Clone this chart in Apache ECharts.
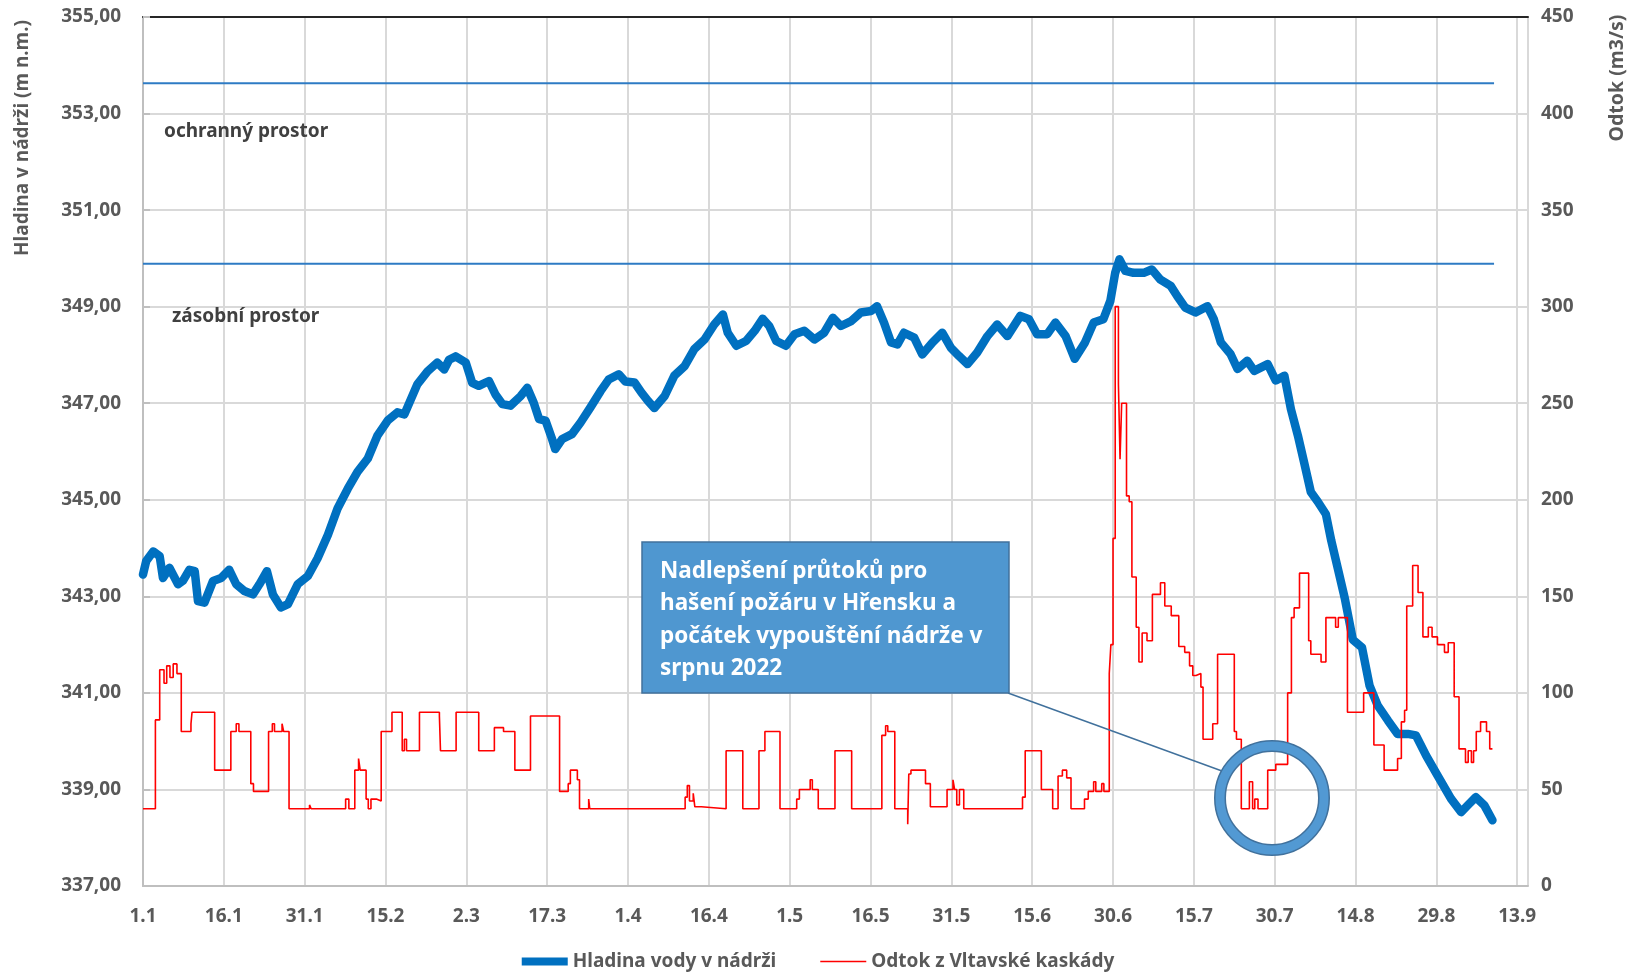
<!DOCTYPE html>
<html>
<head>
<meta charset="utf-8">
<script src="https://cdn.jsdelivr.net/npm/echarts@6/dist/echarts.min.js"></script>
<style>
html,body{margin:0;padding:0;background:#fff;}
#chart{width:1636px;height:976px;}
</style>
</head>
<body>
<div id="chart"></div>
<script>
// ---- data (day index from 1.1.2022) ----
const levelDays = [0,0.6,1.9,3.1,3.7,4.9,6.5,7.4,8.6,9.6,10.2,11.4,13.0,14.5,16.0,17.3,18.8,20.4,21.6,23.0,24.1,25.6,26.9,28.7,30.6,32.4,34.3,36.1,38.0,39.8,41.7,43.5,45.4,47.2,48.5,49.7,50.9,52.8,54.6,55.9,56.8,58.0,59.9,61.1,62.3,64.2,65.4,66.7,68.2,70.1,71.3,72.5,73.5,74.7,75.9,76.5,77.8,79.6,81.2,83.0,84.9,86.4,88.3,89.5,91.2,92.5,93.7,94.9,96.8,98.6,100.5,102.3,104.2,106.0,107.6,108.5,110.1,111.9,113.5,115.0,116.2,117.5,119.3,120.9,122.7,124.6,126.4,128.0,129.5,131.4,133.2,135.1,136.2,137.5,138.8,140.0,141.2,143.1,144.6,146.5,148.3,149.9,151.4,153.0,154.8,156.7,158.5,160.4,162.8,164.4,165.9,167.8,169.3,171.2,172.9,174.8,176.4,178.2,179.5,180.4,181.2,182.3,183.8,185.7,187.2,188.8,190.7,191.9,193.4,195.3,197.5,198.7,200.0,201.8,203.1,204.9,206.2,208.7,210.2,211.8,213.0,214.3,215.5,216.7,218.0,219.5,220.5,221.7,223.0,224.5,226.2,227.6,229.1,231.0,232.8,234.7,236.2,238.1,240.2,242.7,244.6,245.8,247.3,248.9,250.4];
const levelValues = [343.45,343.73,343.93,343.83,343.38,343.59,343.25,343.32,343.55,343.52,342.90,342.87,343.32,343.38,343.55,343.25,343.11,343.04,343.25,343.52,343.04,342.77,342.84,343.25,343.42,343.79,344.27,344.82,345.23,345.58,345.85,346.33,346.64,346.81,346.77,347.08,347.39,347.66,347.84,347.70,347.90,347.97,347.84,347.42,347.36,347.46,347.18,346.98,346.95,347.15,347.32,347.01,346.67,346.64,346.26,346.05,346.26,346.36,346.60,346.91,347.25,347.49,347.60,347.45,347.43,347.22,347.05,346.90,347.15,347.57,347.77,348.12,348.32,348.63,348.84,348.46,348.19,348.29,348.50,348.75,348.60,348.29,348.19,348.43,348.50,348.32,348.46,348.77,348.60,348.70,348.88,348.91,349.01,348.67,348.26,348.22,348.46,348.36,348.01,348.26,348.46,348.15,347.98,347.81,348.05,348.39,348.63,348.39,348.81,348.74,348.43,348.43,348.67,348.39,347.92,348.26,348.67,348.74,349.12,349.70,349.98,349.74,349.70,349.70,349.77,349.56,349.43,349.22,348.98,348.88,349.01,348.74,348.26,348.02,347.71,347.88,347.67,347.81,347.47,347.57,346.88,346.33,345.75,345.16,344.96,344.70,344.15,343.58,342.96,342.10,341.94,341.15,340.74,340.43,340.15,340.15,340.12,339.70,339.29,338.81,338.53,338.67,338.84,338.67,338.36];

const flowDays = [0,2.3,3.1,3.9,4.4,5.0,5.6,6.3,7.1,8.9,9.1,13.3,16.3,17.3,17.8,20.0,20.5,23.3,24.0,24.4,25.8,26.1,27.1,30.9,31.2,37.6,38.2,39.3,40.0,40.3,41.4,41.8,42.3,43.3,44.2,46.2,48.1,48.5,48.9,51.3,55.0,55.2,58.1,62.3,65.2,66.9,69.0,71.9,77.3,78.9,79.3,80.6,81.0,82.7,82.9,100.6,101.0,101.4,102.1,102.4,103.6,108.2,111.3,114.3,115.4,118.2,121.3,121.8,123.8,124.2,125.3,128.4,131.5,137.1,137.8,138.2,139.5,141.9,142.1,142.5,145.2,146.1,149.2,150.3,150.6,151.0,151.5,152.3,163.2,163.7,166.7,168.8,169.8,170.6,171.4,172.2,174.7,175.4,176.4,176.8,177.9,178.3,179.3,179.6,180.0,180.4,181.0,181.3,181.6,182.5,183.0,183.5,184.3,184.8,185.4,186.3,187.3,188.8,189.6,190.8,192.2,193.3,194.2,194.8,195.4,196.3,196.7,198.5,199.4,202.5,202.9,203.8,205.3,205.9,206.3,206.9,208.7,210.2,212.4,213.1,213.6,214.6,216.3,216.7,218.6,219.5,221.3,221.8,223.5,226.5,228.4,230.3,232.8,233.5,234.1,234.5,235.6,236.6,237.5,238.5,239.2,240.2,241.5,242.2,243.3,244.2,245.4,245.9,246.5,246.9,247.4,248.2,249.3,249.9,250.4];
const flowValues = [40,86,112,105,114,108,115,110,80,84,90,60,80,84,80,53,49,80,84,80,84,80,40,42,40,45,40,60,66,60,45,40,45,44,80,90,70,76,70,90,88,70,90,70,82,80,60,88,49,53,60,55,40,45,40,46,52,44,48,41,40,70,40,70,80,40,45,50,55,50,40,70,40,78,83,80,40,32,58,60,53,41,50,55,50,42,50,40,46,70,50,40,57,60,56,40,45,49,54,49,53,49,110,125,180,300,260,221,250,202,199,160,134,116,131,127,151,157,145,140,124,121,114,109,110,103,76,84,120,80,76,40,54,40,45,40,60,63,100,139,144,162,127,120,116,139,134,139,90,100,73,60,66,85,91,145,166,152,129,134,129,125,121,126,98,71,64,70,64,70,80,85,80,71,71];

const limitDays = [0, 250.7];
const protectLevel = 353.63;   // horní hranice ochranného prostoru
const storageLevel = 349.89;   // horní hranice zásobního prostoru

const leftTicks = {min: 337, max: 355, step: 2};
const rightTicks = {min: 0, max: 450, step: 50};
const xTicks = {min: 0, max: 257, step: 15};

const seriesNames = ['Hladina vody v nádrži', 'Odtok z Vltavské kaskády'];

// ---- chart ----
const FONT = '"Noto Sans", "Open Sans", sans-serif';
const TXT = '#595959';
const chart = echarts.init(document.getElementById('chart'));

function dayLabel(v) {
  if (Math.abs(v % 15) > 1e-6) return '';
  const d = new Date(2022, 0, 1 + v);
  return d.getDate() + '.' + (d.getMonth() + 1);
}

const axisLabelStyle = {color: TXT, fontFamily: FONT, fontWeight: 'bold', fontSize: 19};

chart.setOption({
  animation: false,
  backgroundColor: '#fff',
  grid: {left: 143, right: 108, top: 17, bottom: 90, containLabel: false},
  legend: {
    data: [
      {name: seriesNames[0], icon: 'path://M0,0H46V8H0Z', itemStyle: {color: '#0070c0'}},
      {name: seriesNames[1], icon: 'path://M0,0H46V1.6H0Z', itemStyle: {color: '#ff0000'}}
    ],
    symbolKeepAspect: true,
    left: 'center',
    top: 947,
    itemWidth: 46,
    itemHeight: 8,
    itemGap: 44,
    textStyle: {color: TXT, fontFamily: FONT, fontWeight: 'bold', fontSize: 19}
  },
  xAxis: [{
    type: 'value',
    min: xTicks.min, max: xTicks.max, interval: xTicks.step,
    axisLine: {show: true, lineStyle: {color: '#bfbfbf', width: 2}},
    axisTick: {show: false},
    splitLine: {show: true, lineStyle: {color: '#d9d9d9', width: 2}},
    axisLabel: Object.assign({margin: 21, formatter: dayLabel, showMaxLabel: false}, axisLabelStyle)
  }, {
    type: 'value', position: 'top',
    min: xTicks.min, max: xTicks.max, interval: xTicks.step,
    axisLine: {show: true, onZero: false, lineStyle: {color: '#262626', width: 2}},
    axisTick: {show: false}, axisLabel: {show: false}, splitLine: {show: false}
  }],
  yAxis: [{
    type: 'value',
    min: leftTicks.min, max: leftTicks.max, interval: leftTicks.step,
    axisLine: {show: true, lineStyle: {color: '#bfbfbf', width: 2}},
    axisTick: {show: false},
    splitLine: {show: true, lineStyle: {color: '#d9d9d9', width: 2}},
    axisLabel: Object.assign({margin: 22, formatter: v => v.toFixed(2).replace('.', ',')}, axisLabelStyle)
  }, {
    type: 'value', position: 'right',
    min: rightTicks.min, max: rightTicks.max, interval: rightTicks.step,
    axisLine: {show: true, lineStyle: {color: '#bfbfbf', width: 2}},
    axisTick: {show: true, length: 7, lineStyle: {color: '#bfbfbf', width: 2}},
    splitLine: {show: false},
    axisLabel: Object.assign({margin: 13}, axisLabelStyle)
  }],
  series: [{
    name: 'ochranný prostor',
    type: 'line', yAxisIndex: 0, symbol: 'none', silent: true, z: 2,
    lineStyle: {color: '#2e7bc4', width: 2},
    data: limitDays.map(d => [d, protectLevel])
  }, {
    name: 'zásobní prostor',
    type: 'line', yAxisIndex: 0, symbol: 'none', silent: true, z: 2,
    lineStyle: {color: '#2e7bc4', width: 2},
    data: limitDays.map(d => [d, storageLevel])
  }, {
    name: seriesNames[0],
    type: 'line', yAxisIndex: 0, symbol: 'none', z: 3,
    itemStyle: {color: '#0070c0'},
    lineStyle: {color: '#0070c0', width: 8.5, join: 'round', cap: 'round'},
    data: levelDays.map((d, i) => [d, levelValues[i]])
  }, {
    name: seriesNames[1],
    type: 'line', yAxisIndex: 1, symbol: 'none', z: 4, step: 'end',
    itemStyle: {color: '#ff0000'},
    lineStyle: {color: '#ff0000', width: 1.6},
    data: flowDays.map((d, i) => [d, flowValues[i]])
  }],
  graphic: [
    {type: 'text', x: 23, y: 138, rotation: Math.PI / 2, z: 10,
     style: {text: 'Hladina v nádrži (m n.m.)', align: 'center', verticalAlign: 'middle',
             font: 'bold 19px ' + FONT, fill: TXT}},
    {type: 'text', x: 1617, y: 78, rotation: Math.PI / 2, z: 10,
     style: {text: 'Odtok (m3/s)', align: 'center', verticalAlign: 'middle',
             font: 'bold 19.5px ' + FONT, fill: TXT}},
    {type: 'text', x: 164, y: 132, z: 10,
     style: {text: 'ochranný prostor', align: 'left', verticalAlign: 'middle',
             font: 'bold 19px ' + FONT, fill: '#404040'}},
    {type: 'text', x: 172, y: 317, z: 10,
     style: {text: 'zásobní prostor', align: 'left', verticalAlign: 'middle',
             font: 'bold 19px ' + FONT, fill: '#404040'}},
    {type: 'line', z: 20, shape: {x1: 1008, y1: 693, x2: 1222, y2: 771},
     style: {stroke: '#41719c', lineWidth: 1.5}},
    {type: 'rect', z: 20, shape: {x: 642, y: 542, width: 367, height: 151},
     style: {fill: '#4f97d0', stroke: '#41719c', lineWidth: 1.5}},
    {type: 'text', x: 660, y: 555, z: 21,
     style: {text: 'Nadlepšení průtoků pro\nhašení požáru v Hřensku a\npočátek vypouštění nádrže v\nsrpnu 2022',
             align: 'left', verticalAlign: 'top', lineHeight: 32.5,
             font: 'bold 22.5px ' + FONT, fill: '#ffffff'}},
    {type: 'circle', z: 20, shape: {cx: 1272, cy: 798, r: 52},
     style: {fill: 'none', stroke: '#41719c', lineWidth: 12}},
    {type: 'circle', z: 21, shape: {cx: 1272, cy: 798, r: 52},
     style: {fill: 'none', stroke: '#5299d3', lineWidth: 9}}
  ]
});
</script>
</body>
</html>
